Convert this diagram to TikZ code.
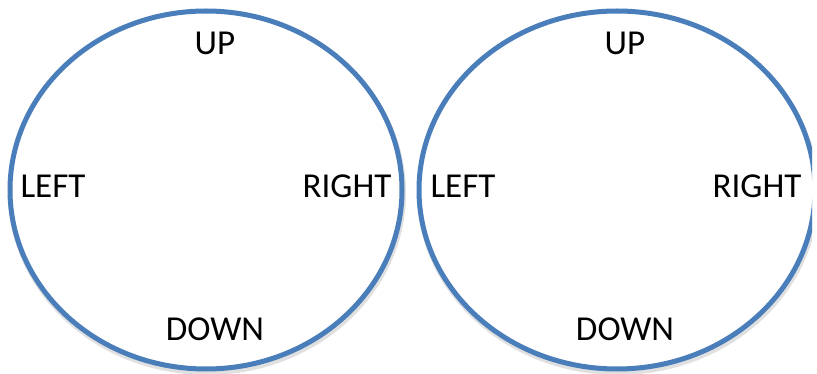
\documentclass[tikz,border=0pt]{standalone}
\usepackage{fontspec}
\setmainfont{Carlito}
\definecolor{ringblue}{HTML}{4A7EBB}
\begin{document}
\begin{tikzpicture}[x=1pt,y=-1pt,
  ring/.style={draw=ringblue,line width=5pt},
  ringshadow/.style={draw=black,opacity=0.12,line width=6pt},
  lbl/.style={font=\fontsize{35}{40}\selectfont,inner sep=0pt,anchor=center}]
\useasboundingbox (0,0) rectangle (817,374);
\fill[white] (0,0) rectangle (817,374);
% left ring
\draw[ringshadow] (207,193) ellipse [x radius=196,y radius=179];
\draw[ring,fill=white] (206,190) ellipse [x radius=196,y radius=179];
% right ring (cut at the right edge)
\begin{scope}
\clip (410,0) rectangle (812,374);
\draw[ringshadow] (618,193) ellipse [x radius=198,y radius=179];
\draw[ring,fill=white] (617,190) ellipse [x radius=198,y radius=179];
\end{scope}
\node[lbl] (up1) at (215,43) {UP};
\node[lbl] (left1) at (53,186) {LEFT};
\node[lbl] (right1) at (347,186) {RIGHT};
\node[lbl] (down1) at (215,329) {DOWN};
\node[lbl] (up2) at (625,43) {UP};
\node[lbl] (left2) at (463,186) {LEFT};
\node[lbl] (right2) at (757,186) {RIGHT};
\node[lbl] (down2) at (625,329) {DOWN};
\end{tikzpicture}
\end{document}
